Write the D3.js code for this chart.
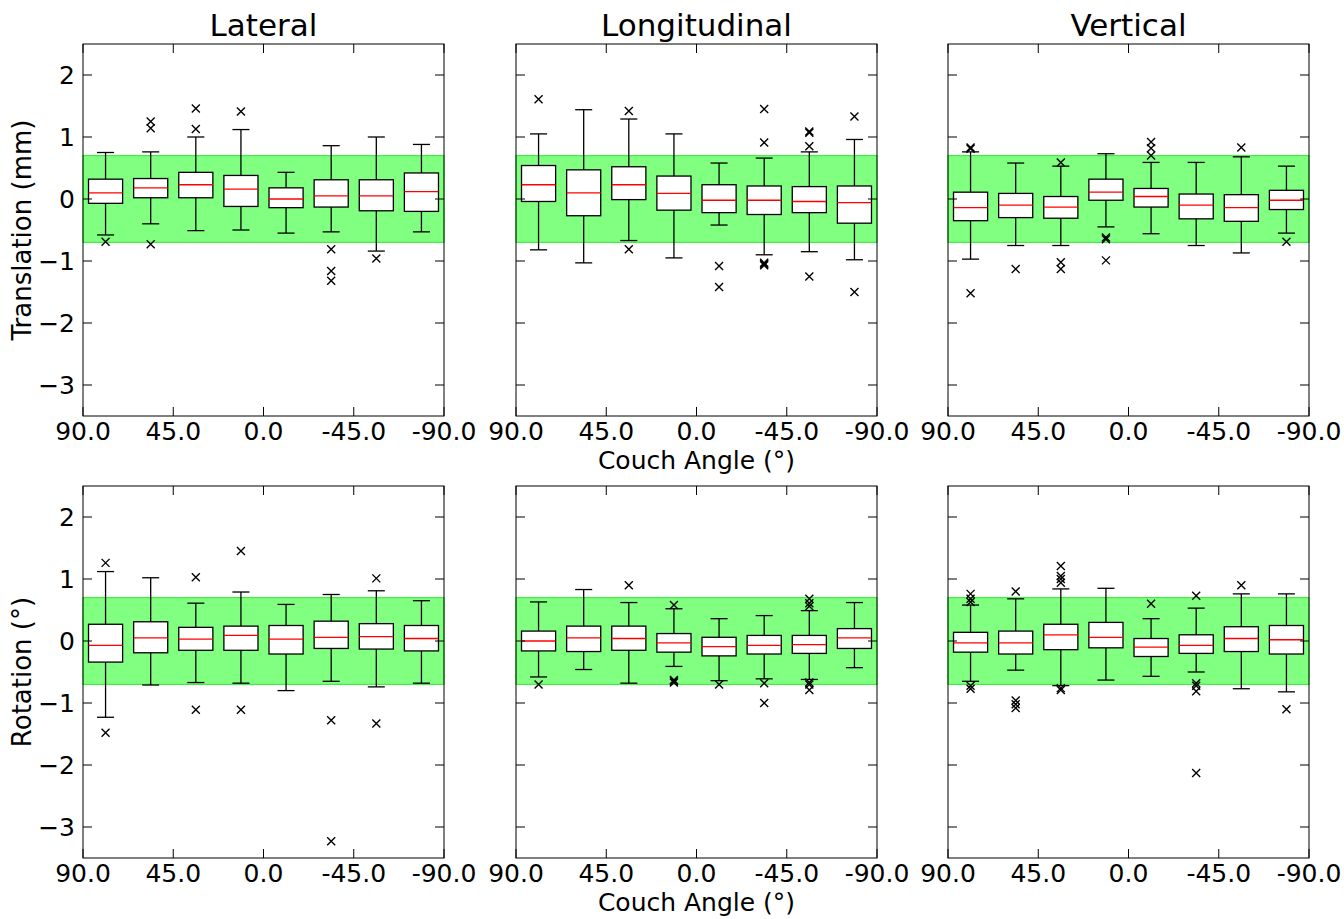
<!DOCTYPE html>
<html>
<head>
<meta charset="utf-8">
<script src="https://cdn.jsdelivr.net/npm/d3@7"></script>
<style>
  body { margin: 0; background: #fff; }
  svg { font-family: "DejaVu Sans", sans-serif; }
</style>
</head>
<body>
<svg id="chart" width="1344" height="919"></svg>
<script>
// box centres (couch angle bins, degrees)
const angles = [78.75, 56.25, 33.75, 11.25, -11.25, -33.75, -56.25, -78.75];
const xTicks = [90, 45, 0, -45, -90];
const yTicks = [2, 1, 0, -1, -2, -3];
const colTitles = ["Lateral", "Longitudinal", "Vertical"];
const rowLabels = ["Translation (mm)", "Rotation (°)"];
const tolerance = 0.7;

// [whiskerLow, q1, median, q3, whiskerHigh] per angle
const latTrans = [[-0.58,-0.07,0.10,0.32,0.75],[-0.40,0.02,0.18,0.33,0.76],[-0.51,0.02,0.23,0.43,1.0],[-0.50,-0.12,0.16,0.38,1.12],
  [-0.55,-0.14,0.0,0.18,0.43],[-0.53,-0.13,0.05,0.31,0.86],[-0.84,-0.19,0.05,0.31,1.0],[-0.53,-0.20,0.12,0.42,0.88]];
const latTransOut = [[-0.69],[1.25,1.14,-0.73],[1.46,1.13],[1.41],[],[-0.81,-1.16,-1.32],[-0.96],[]];

const lonTrans = [[-0.82,-0.04,0.23,0.54,1.05],[-1.03,-0.27,0.10,0.47,1.44],[-0.67,-0.01,0.23,0.52,1.29],[-0.95,-0.18,0.09,0.37,1.05],
  [-0.42,-0.22,-0.02,0.23,0.58],[-0.90,-0.25,-0.02,0.21,0.66],[-0.85,-0.22,-0.04,0.20,0.76],[-0.98,-0.39,-0.06,0.21,0.96]];
const lonTransOut = [[1.61],[],[1.42,-0.81],[],[-1.08,-1.42],[1.45,0.91,-1.03,-1.05,-1.07],[1.09,1.07,0.85,-1.25],[1.33,-1.50]];

const verTrans = [[-0.97,-0.35,-0.14,0.11,0.76],[-0.75,-0.30,-0.10,0.09,0.58],[-0.75,-0.31,-0.13,0.04,0.53],[-0.45,-0.02,0.11,0.32,0.73],
  [-0.56,-0.13,0.04,0.17,0.59],[-0.75,-0.32,-0.10,0.08,0.59],[-0.87,-0.36,-0.14,0.07,0.68],[-0.55,-0.17,-0.02,0.14,0.53]];
const verTransOut = [[0.83,0.81,-1.52],[-1.13],[0.59,-1.02,-1.13],[-0.62,-0.65,-0.99],[0.92,0.82,0.70],[],[0.83],[-0.69]];

const latRot = [[-1.23,-0.34,-0.07,0.27,1.12],[-0.71,-0.19,0.05,0.31,1.02],[-0.67,-0.15,0.03,0.22,0.61],[-0.68,-0.15,0.09,0.24,0.79],
  [-0.80,-0.21,0.03,0.25,0.59],[-0.65,-0.12,0.06,0.32,0.75],[-0.74,-0.13,0.07,0.28,0.81],[-0.68,-0.16,0.04,0.25,0.65]];
const latRotOut = [[1.26,-1.48],[],[1.03,-1.11],[1.45,-1.11],[],[-1.28,-3.23],[1.01,-1.33],[]];

const lonRot = [[-0.58,-0.16,0.0,0.16,0.63],[-0.46,-0.17,0.05,0.24,0.83],[-0.68,-0.15,0.04,0.24,0.62],[-0.41,-0.18,-0.03,0.12,0.52],
  [-0.64,-0.24,-0.09,0.06,0.36],[-0.61,-0.21,-0.07,0.09,0.41],[-0.62,-0.20,-0.06,0.09,0.49],[-0.43,-0.12,0.05,0.20,0.62]];
const lonRotOut = [[-0.70],[],[0.90],[0.58,-0.63,-0.65,-0.67],[-0.70],[-0.68,-1.0],[0.68,0.61,0.56,-0.67,-0.70,-0.79],[]];

const verRot = [[-0.65,-0.18,-0.03,0.14,0.58],[-0.47,-0.21,-0.03,0.16,0.68],[-0.72,-0.14,0.10,0.27,0.84],[-0.63,-0.11,0.06,0.30,0.85],
  [-0.57,-0.25,-0.10,0.04,0.36],[-0.50,-0.20,-0.07,0.10,0.53],[-0.77,-0.17,0.04,0.23,0.76],[-0.82,-0.21,0.02,0.25,0.76]];
const verRotOut = [[0.76,0.68,0.63,-0.72,-0.77],[0.80,-0.96,-1.02,-1.08],[1.21,1.05,1.0,0.94,-0.76,-0.79],[],
  [0.60],[0.73,-0.68,-0.72,-0.81,-2.13],[0.90],[-1.10]];

const panels = [
  [latTrans, latTransOut], [lonTrans, lonTransOut], [verTrans, verTransOut],
  [latRot, latRotOut], [lonRot, lonRotOut], [verRot, verRotOut]
];

const pw = 361, ph = 372;
const colX = [83, 516, 948];
const rowY = [44, 486];
const svg = d3.select("#chart");

const x = d3.scaleLinear().domain([90, -90]).range([0, pw]);
const y = d3.scaleLinear().domain([-3.5, 2.5]).range([ph, 0]);
const boxW = x(0) - x(17);
const capW = boxW / 2;
const tickLen = 9;

panels.forEach(([stats, outs], i) => {
  const col = i % 3, row = Math.floor(i / 3);
  const g = svg.append("g").attr("transform", `translate(${colX[col]},${rowY[row]})`);

  // tolerance band
  g.append("rect")
    .attr("x", 0).attr("width", pw)
    .attr("y", y(tolerance)).attr("height", y(-tolerance) - y(tolerance))
    .attr("fill", "#80ff80")
    .attr("stroke", "#40f040").attr("stroke-width", 1.2);

  const box = g.selectAll(".box").data(stats).enter().append("g")
    .attr("transform", (d, j) => `translate(${x(angles[j])},0)`);

  box.append("line").attr("x1", 0).attr("x2", 0)
    .attr("y1", d => y(d[0])).attr("y2", d => y(d[1]))
    .attr("stroke", "#000").attr("stroke-width", 1.3);
  box.append("line").attr("x1", 0).attr("x2", 0)
    .attr("y1", d => y(d[3])).attr("y2", d => y(d[4]))
    .attr("stroke", "#000").attr("stroke-width", 1.3);
  box.append("line").attr("x1", -capW / 2).attr("x2", capW / 2)
    .attr("y1", d => y(d[0])).attr("y2", d => y(d[0]))
    .attr("stroke", "#000").attr("stroke-width", 1.3);
  box.append("line").attr("x1", -capW / 2).attr("x2", capW / 2)
    .attr("y1", d => y(d[4])).attr("y2", d => y(d[4]))
    .attr("stroke", "#000").attr("stroke-width", 1.3);
  box.append("rect")
    .attr("x", -boxW / 2).attr("width", boxW)
    .attr("y", d => y(d[3])).attr("height", d => y(d[1]) - y(d[3]))
    .attr("fill", "#fff").attr("stroke", "#000").attr("stroke-width", 1.3);
  box.append("line").attr("x1", -boxW / 2).attr("x2", boxW / 2)
    .attr("y1", d => y(d[2])).attr("y2", d => y(d[2]))
    .attr("stroke", "#ff0000").attr("stroke-width", 1.3);

  // outliers
  outs.forEach((list, j) => {
    g.selectAll(null).data(list).enter().append("path")
      .attr("transform", v => `translate(${x(angles[j])},${y(v)})`)
      .attr("d", "M-4,-4L4,4M-4,4L4,-4")
      .attr("stroke", "#000").attr("stroke-width", 1.4).attr("fill", "none");
  });

  // frame
  g.append("rect").attr("width", pw).attr("height", ph)
    .attr("fill", "none").attr("stroke", "#000").attr("stroke-width", 1);

  // inward ticks on all four sides
  const tk = g.append("g").attr("stroke", "#000").attr("stroke-width", 1);
  yTicks.forEach(t => {
    tk.append("line").attr("x1", 0).attr("x2", tickLen).attr("y1", y(t)).attr("y2", y(t));
    tk.append("line").attr("x1", pw).attr("x2", pw - tickLen).attr("y1", y(t)).attr("y2", y(t));
  });
  xTicks.forEach(t => {
    tk.append("line").attr("x1", x(t)).attr("x2", x(t)).attr("y1", ph).attr("y2", ph - tickLen);
    tk.append("line").attr("x1", x(t)).attr("x2", x(t)).attr("y1", 0).attr("y2", tickLen);
  });

  // x tick labels
  g.selectAll(".xl").data(xTicks).enter().append("text")
    .attr("x", d => x(d)).attr("y", ph + 24)
    .attr("text-anchor", "middle").attr("font-size", 25)
    .text(d => d3.format(".1f")(d).replace("−", "-"));

  // y tick labels, left column only
  if (col === 0) {
    g.selectAll(".yl").data(yTicks).enter().append("text")
      .attr("x", -8).attr("y", d => y(d)).attr("dy", "0.36em")
      .attr("text-anchor", "end").attr("font-size", 25)
      .text(d => d3.format("d")(d));
    g.append("text")
      .attr("transform", `translate(-52,${ph / 2}) rotate(-90)`)
      .attr("text-anchor", "middle").attr("font-size", 26)
      .text(rowLabels[row]);
  }
  if (col === 1) {
    g.append("text").attr("x", pw / 2).attr("y", ph + 53)
      .attr("text-anchor", "middle").attr("font-size", 25)
      .text("Couch Angle (°)");
  }
  if (row === 0) {
    g.append("text").attr("x", pw / 2).attr("y", -8)
      .attr("text-anchor", "middle").attr("font-size", 31)
      .text(colTitles[col]);
  }
});
</script>
</body>
</html>
